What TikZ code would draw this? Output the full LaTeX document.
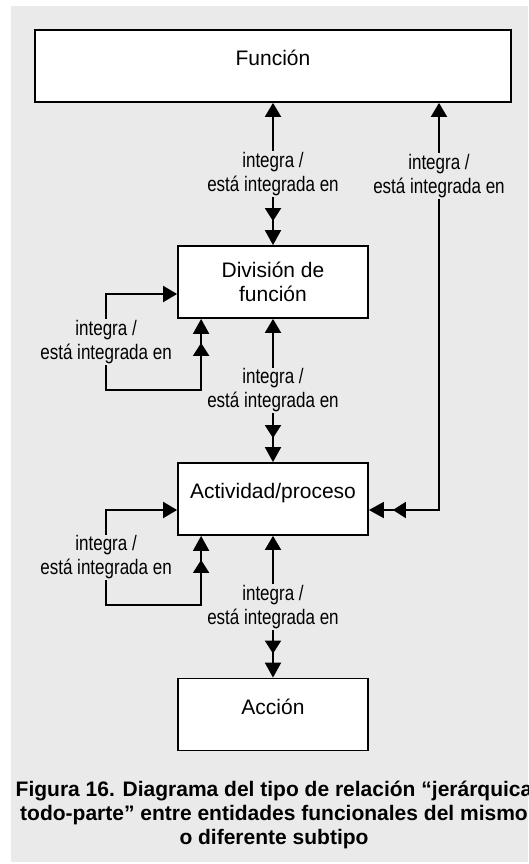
\documentclass[tikz,border=0pt]{standalone}
\usepackage{fontspec}
\setmainfont{Liberation Sans}
\newfontfamily\narrowfont[FakeStretch=0.81]{Liberation Sans}
\usepackage{tikz}
\usetikzlibrary{arrows.meta,calc}
\definecolor{panel}{HTML}{EAEAEA}
\tikzset{
  ent/.style={rectangle, draw=black, fill=white, line width=1.8pt, align=center,
              inner sep=2pt, minimum width=190pt, minimum height=72pt,
              font=\fontsize{21}{24}\selectfont},
  entlow/.style={ent, text height=15pt, text depth=16pt},
  lbl/.style={fill=panel, inner sep=1pt, align=center,
              font=\narrowfont\fontsize{21}{24}\selectfont},
  capt/.style={align=center, font=\bfseries\fontsize{21}{24}\selectfont},
  link/.style={draw=black, line width=1.9pt,
               {Triangle[length=14pt,width=16pt]}-{Triangle[length=13pt,width=16pt,sep=9pt]Triangle[length=15pt,width=16pt]}},
}

\begin{document}
\begin{tikzpicture}[x=1pt,y=-1pt]
\useasboundingbox (0,0) rectangle (528,864);
\fill[panel] (11,6) rectangle (528,862);
\node[entlow, minimum width=476pt] (fun) at (273,66)    {Función};
\node[ent]                         (div) at (273,282)   {División de\\función};
\node[entlow]                      (act) at (273,499)   {Actividad/proceso};
\node[entlow]                      (acc) at (273,714.5) {Acción};
\coordinate (rt) at (439,510);
\draw[link] (fun.south) -- node[lbl]{integra /\\está integrada en} (div.north);
\draw[link] (div.south) -- node[lbl]{integra /\\está integrada en} (act.north);
\draw[link] (act.south) -- node[lbl]{integra /\\está integrada en} (acc.north);
\draw[link] (fun.south -| rt) -- node[lbl,pos=0.179]{integra /\\está integrada en} (rt) -- (rt -| act.east);
% lazos de la misma entidad
\draw[link] ($(div.west)+(0,12)$) -- ++(-71,0) -- node[lbl]{integra /\\está integrada en} ++(0,96) -| ($(div.south west)+(24,0)$);
\draw[link] ($(act.west)+(0,11)$) -- ++(-71,0) -- node[lbl]{integra /\\está integrada en} ++(0,95) -| ($(act.south west)+(24,0)$);
\node[capt] (fig) at (274,815) {Figura 16. Diagrama del tipo de relación “jerárquica\\todo-parte” entre entidades funcionales del mismo\\o diferente subtipo};
\end{tikzpicture}
\end{document}
